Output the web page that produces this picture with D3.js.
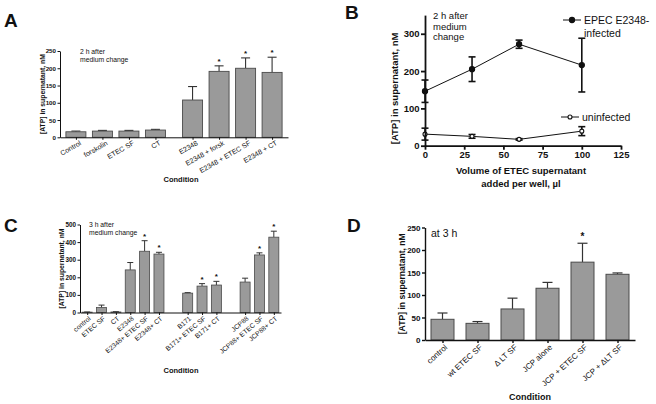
<!DOCTYPE html>
<html><head><meta charset="utf-8">
<script src="https://cdn.jsdelivr.net/npm/d3@7"></script>
<style>
body{margin:0;background:#fff}
svg{display:block}
text{font-family:"Liberation Sans",Arial,Helvetica,sans-serif;fill:#111}
</style>
</head><body>
<svg id="c" width="656" height="404"></svg>
<script>
// ---------- Panel A data ----------
const aCategories = ["Control","forskolin","ETEC SF","CT","E2348","E2348 + forsk","E2348 + ETEC SF","E2348 + CT"];
const aGroups = [0,0,0,0,1,1,1,1];
const aValues = [16,18,18,21,108,191,200,188];
const aErrors = [2,2,2,2,39,16,30,44];
const aStars = [false,false,false,false,false,true,true,true];
const aTicks = [0,50,100,150,200,250];

// ---------- Panel B data ----------
const bVolumes = [0,30,60,100];
const bInfected = [146,205,272,216];
const bInfectedErr = [30,33,11,72];
const bUninfected = [31,25,17,39];
const bUninfectedErr = [16,5,2,12];
const bXTicks = [0,25,50,75,100,125];
const bYTicks = [0,100,200,300];

// ---------- Panel C data ----------
const cCategories = ["control","ETEC SF","CT","E2348","E2348+ ETEC SF","E2348+ CT","B171","B171+ ETEC SF","B171+ CT","JCP88","JCP88+ ETEC SF","JCP88+ CT"];
const cGroups = [0,0,0,0,0,0,1,1,1,2,2,2];
const cValues = [2,28,3,242,348,332,110,150,156,173,327,428];
const cErrors = [1,14,2,42,60,10,3,14,21,22,12,34];
const cStars = [false,false,false,false,true,true,false,true,true,false,true,true];
const cTicks = [0,100,200,300,400,500];

// ---------- Panel D data ----------
const dCategories = ["control","wt ETEC SF","\u0394 LT SF","JCP alone","JCP + ETEC SF","JCP + \u0394LT SF"];
const dGroups = [0,0,0,0,0,0];
const dValues = [46,37,69,115,173,146];
const dErrors = [14,4,24,13,42,3];
const dStars = [false,false,false,false,true,false];
const dTicks = [0,50,100,150,200,250];

const svg = d3.select("#c");
const BAR_FILL = "#9a9a9a", BAR_STROKE = "#4a4a4a", INK = "#111";

function barPanel(o) {
  const g = svg.append("g");
  const slot = o.cats.map((c, i) => i + o.groups[i] * o.gap);
  const x = d3.scaleLinear().domain(o.xDomain).range(o.xRange);
  const y = d3.scaleLinear().domain(o.yDomain).range(o.yRange);
  const y0 = y(0);
  const rows = o.cats.map((c, i) => ({c, s: slot[i], v: o.vals[i], e: o.errs[i], star: o.stars[i]}));

  // error bars (upper only)
  const eb = g.append("g").attr("stroke", "#333").attr("stroke-width", o.errW).attr("fill", "none");
  eb.selectAll("line.v").data(rows).join("line")
    .attr("x1", d => x(d.s)).attr("x2", d => x(d.s))
    .attr("y1", d => y(d.v)).attr("y2", d => y(d.v + d.e));
  eb.selectAll("line.c").data(rows).join("line")
    .attr("x1", d => x(d.s) - o.capW / 2).attr("x2", d => x(d.s) + o.capW / 2)
    .attr("y1", d => y(d.v + d.e)).attr("y2", d => y(d.v + d.e));

  g.selectAll("rect").data(rows).join("rect")
    .attr("x", d => x(d.s) - o.barW / 2).attr("width", o.barW)
    .attr("y", d => y(d.v)).attr("height", d => y0 - y(d.v))
    .attr("fill", BAR_FILL).attr("stroke", BAR_STROKE).attr("stroke-width", o.barStroke);

  // stars
  g.selectAll("text.star").data(rows.filter(d => d.star)).join("text")
    .attr("class", "star")
    .attr("x", d => x(d.s)).attr("y", d => y(d.v + d.e) - o.starGap)
    .attr("text-anchor", "middle").style("font-size", o.starFont + "px").style("font-weight", "bold")
    .text("*");

  // y axis
  const ya = g.append("g").attr("transform", `translate(${o.xRange[0]},0)`)
    .call(d3.axisLeft(y).tickValues(o.ticks).tickSize(o.tickLen).tickSizeOuter(0).tickPadding(1.5));
  ya.select(".domain").attr("stroke", INK).attr("stroke-width", o.axisW);
  ya.selectAll(".tick line").attr("stroke", INK).attr("stroke-width", o.axisW);
  ya.selectAll("text").style("font-size", o.tickFont + "px").style("font-weight", "bold")
    .attr("font-family", null).attr("fill", INK);

  // x axis
  const labelOf = new Map(rows.map(d => [d.s, d.c]));
  const xa = g.append("g").attr("transform", `translate(0,${y0})`)
    .call(d3.axisBottom(x).tickValues(slot).tickFormat(d => labelOf.get(d)).tickSize(o.tickLen).tickSizeOuter(0));
  xa.select(".domain").attr("stroke", INK).attr("stroke-width", o.axisW);
  xa.selectAll(".tick line").attr("stroke", INK).attr("stroke-width", o.axisW);
  xa.selectAll("text")
    .attr("x", 0).attr("y", 0).attr("dy", "0.35em")
    .attr("transform", `translate(${o.ldx},${o.ldy}) rotate(${o.angle})`)
    .style("text-anchor", "end").style("font-size", o.labelFont + "px").attr("fill", INK);

  // axis titles
  g.append("text")
    .attr("transform", `translate(${o.titleX},${(o.yRange[0] + o.yRange[1]) / 2 + o.titleDy}) rotate(-90)`)
    .attr("text-anchor", "middle").attr("dy", "0.35em")
    .style("font-size", o.titleFont + "px").style("font-weight", "bold")
    .text("[ATP] in supernatant, nM");
  g.append("text").attr("x", o.condX).attr("y", o.condY).attr("text-anchor", "middle")
    .style("font-size", o.condFont + "px").style("font-weight", "bold").text("Condition");

  // note
  o.note.forEach((t, i) => {
    g.append("text").attr("x", o.noteX).attr("y", o.noteY + i * o.noteLH)
      .style("font-size", o.noteFont + "px").text(t);
  });
}

function letter(t, x, y) {
  svg.append("text").attr("x", x).attr("y", y).style("font-size", "19px").style("font-weight", "bold").text(t);
}

// ---------- Panel A ----------
barPanel({
  cats: aCategories, groups: aGroups, gap: 0.4, vals: aValues, errs: aErrors, stars: aStars,
  xDomain: [-0.6, 8.0], xRange: [60, 288], yDomain: [0, 250], yRange: [137.3, 51], ticks: aTicks,
  barW: 20, capW: 9, errW: 1.1, barStroke: 0.9, axisW: 1, tickLen: 2.5,
  tickFont: 6.2, labelFont: 7, angle: -30, ldx: 4, ldy: 5,
  titleX: 43, titleDy: 0, titleFont: 6.8, condX: 181, condY: 182, condFont: 7.5,
  starFont: 8, starGap: 2,
  note: ["2 h after", "medium change"], noteX: 80, noteY: 54, noteLH: 8.3, noteFont: 6.8
});
letter("A", 4, 27);

// ---------- Panel C ----------
barPanel({
  cats: cCategories, groups: cGroups, gap: 1, vals: cValues, errs: cErrors, stars: cStars,
  xDomain: [-0.5, 13.5], xRange: [80, 281], yDomain: [0, 500], yRange: [312.5, 224.5], ticks: cTicks,
  barW: 10, capW: 6, errW: 1, barStroke: 0.8, axisW: 1, tickLen: 2.5,
  tickFont: 6.3, labelFont: 6.7, angle: -40, ldx: 2, ldy: 5,
  titleX: 62, titleDy: 0, titleFont: 6.8, condX: 181, condY: 373, condFont: 7.5,
  starFont: 8, starGap: 2,
  note: ["3 h after", "medium change"], noteX: 89, noteY: 227, noteLH: 8.3, noteFont: 6.8
});
letter("C", 4, 232);

// ---------- Panel D ----------
barPanel({
  cats: dCategories, groups: dGroups, gap: 0, vals: dValues, errs: dErrors, stars: dStars,
  xDomain: [-0.5, 5.5], xRange: [425, 635], yDomain: [0, 250], yRange: [340, 227.5], ticks: dTicks,
  barW: 23, capW: 10, errW: 1.2, barStroke: 1, axisW: 1.4, tickLen: 3,
  tickFont: 8, labelFont: 8, angle: -42, ldx: 3, ldy: 6,
  titleX: 402, titleDy: 0, titleFont: 8.6, condX: 530, condY: 400, condFont: 9,
  starFont: 10, starGap: 3,
  note: ["at 3 h"], noteX: 431, noteY: 237, noteLH: 10, noteFont: 10.5
});
letter("D", 347, 232);

// ---------- Panel B ----------
(function () {
  const g = svg.append("g");
  const x = d3.scaleLinear().domain([0, 125]).range([425, 621]);
  const y = d3.scaleLinear().domain([0, 350]).range([145.7, 15.1]);
  const series = [
    {vals: bInfected, errs: bInfectedErr, filled: true},
    {vals: bUninfected, errs: bUninfectedErr, filled: false}
  ];
  const line = d3.line().x(d => x(d.v)).y(d => y(d.y));

  series.forEach(s => {
    const pts = bVolumes.map((v, i) => ({v, y: s.vals[i], e: s.errs[i]}));
    g.append("path").datum(pts).attr("d", line).attr("fill", "none").attr("stroke", INK).attr("stroke-width", 1);
    const eg = g.append("g").attr("stroke", INK).attr("stroke-width", 1.6);
    eg.selectAll("line.v").data(pts).join("line")
      .attr("x1", d => x(d.v)).attr("x2", d => x(d.v)).attr("y1", d => y(d.y - d.e)).attr("y2", d => y(d.y + d.e));
    eg.selectAll("line.t").data(pts).join("line")
      .attr("x1", d => x(d.v) - 3.5).attr("x2", d => x(d.v) + 3.5).attr("y1", d => y(d.y + d.e)).attr("y2", d => y(d.y + d.e));
    eg.selectAll("line.b").data(pts).join("line")
      .attr("x1", d => x(d.v) - 3.5).attr("x2", d => x(d.v) + 3.5).attr("y1", d => y(d.y - d.e)).attr("y2", d => y(d.y - d.e));
    g.selectAll(null).data(pts).join("circle")
      .attr("cx", d => x(d.v)).attr("cy", d => y(d.y)).attr("r", s.filled ? 2.6 : 2)
      .attr("fill", s.filled ? INK : "#fff").attr("stroke", INK).attr("stroke-width", 1.1);
  });

  const xa = g.append("g").attr("transform", `translate(0,${y(0)})`)
    .call(d3.axisBottom(x).tickValues(bXTicks).tickSize(4).tickSizeOuter(0).tickPadding(2));
  const ya = g.append("g").attr("transform", `translate(${x(0)},0)`)
    .call(d3.axisLeft(y).tickValues(bYTicks).tickSize(4).tickSizeOuter(0).tickPadding(1.5));
  [xa, ya].forEach(a => {
    a.select(".domain").attr("stroke", INK).attr("stroke-width", 1.8);
    a.selectAll(".tick line").attr("stroke", INK).attr("stroke-width", 1.8);
    a.selectAll("text").style("font-size", "9.5px").style("font-weight", "bold").attr("fill", INK);
  });

  g.append("text").attr("transform", `translate(395,${(y(0) + y(350)) / 2 + 8}) rotate(-90)`)
    .attr("text-anchor", "middle").attr("dy", "0.35em")
    .style("font-size", "9.5px").style("font-weight", "bold").text("[ATP] in supernatant, nM");
  g.append("text").attr("x", 521).attr("y", 174).attr("text-anchor", "middle")
    .style("font-size", "9.5px").style("font-weight", "bold").text("Volume of ETEC supernatant");
  g.append("text").attr("x", 521).attr("y", 187).attr("text-anchor", "middle")
    .style("font-size", "9.5px").style("font-weight", "bold").text("added per well, \u00b5l");

  ["2 h after", "medium", "change"].forEach((t, i) =>
    g.append("text").attr("x", 433).attr("y", 19 + i * 10.5).style("font-size", "9.5px").text(t));

  // legend
  const lg = [
    {y: 20, filled: true, lines: ["EPEC E2348-", "infected"], x1: 563, x2: 581},
    {y: 117, filled: false, lines: ["uninfected"], x1: 561, x2: 579}
  ];
  lg.forEach(l => {
    g.append("line").attr("x1", l.x1).attr("x2", l.x2).attr("y1", l.y).attr("y2", l.y).attr("stroke", INK).attr("stroke-width", 1);
    g.append("circle").attr("cx", (l.x1 + l.x2) / 2).attr("cy", l.y).attr("r", l.filled ? 2.6 : 2)
      .attr("fill", l.filled ? INK : "#fff").attr("stroke", INK).attr("stroke-width", 1.1);
    l.lines.forEach((t, i) => g.append("text").attr("x", l.x2 + 3).attr("y", l.y + i * 13).attr("dy", "0.35em")
      .style("font-size", "10.5px").text(t));
  });
})();
letter("B", 345, 19);
</script>
</body></html>
